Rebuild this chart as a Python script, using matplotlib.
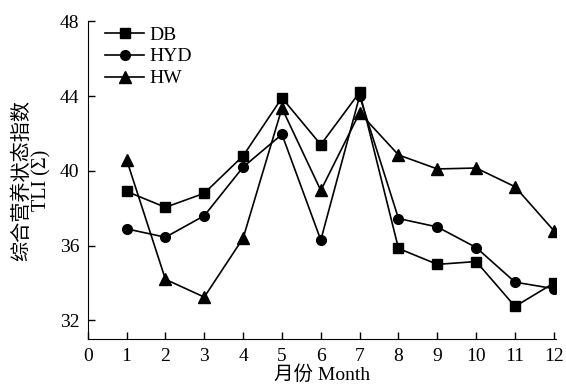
import matplotlib.pyplot as plt

# monthly TLI values
months = [1, 2, 3, 4, 5, 6, 7, 8, 9, 10, 11, 12]
db = [38.9, 38.05, 38.8, 40.8, 43.9, 41.4, 44.2, 35.85, 35.0, 35.15, 32.75, 34.0]
hyd = [36.9, 36.45, 37.6, 40.2, 41.95, 36.3, 44.0, 37.45, 37.0, 35.9, 34.05, 33.7]
hw = [40.6, 34.2, 33.25, 36.4, 43.35, 38.95, 43.1, 40.85, 40.1, 40.15, 39.15, 36.8]
xticks = list(range(0, 13))
yticks = [32, 36, 40, 44, 48]

plt.rcParams['font.family'] = ['Liberation Serif', 'Noto Sans CJK SC']
plt.rcParams['font.size'] = 12

fig = plt.figure(figsize=(5.66, 3.85), dpi=100)
ax = fig.add_axes([0.155, 0.119, 0.827, 0.826])

ax.plot(months, db, color='black', lw=1.2, marker='s', ms=7, label='DB')
ax.plot(months, hyd, color='black', lw=1.2, marker='o', ms=7, label='HYD')
ax.plot(months, hw, color='black', lw=1.2, marker='^', ms=8, label='HW')

ax.set_xlim(0, 12.05)
ax.set_ylim(31, 48)
ax.set_xticks(xticks)
ax.set_yticks(yticks)
ax.tick_params(direction='in', length=5, width=1, labelsize=14, pad=6)
ax.spines['top'].set_visible(False)
ax.spines['right'].set_visible(False)
ax.spines['left'].set_bounds(31, 48)

ax.set_xlabel('月份 Month', fontsize=14, labelpad=1)
ax.set_ylabel('综合营养状态指数\nTLI (Σ)', fontsize=14.5, labelpad=6, linespacing=1.0)

ax.legend(loc='upper left', bbox_to_anchor=(0.0, 1.04), frameon=False,
          fontsize=14, handlelength=2.0, labelspacing=0.22, handletextpad=0.25)

plt.savefig('out.png', dpi=100)
